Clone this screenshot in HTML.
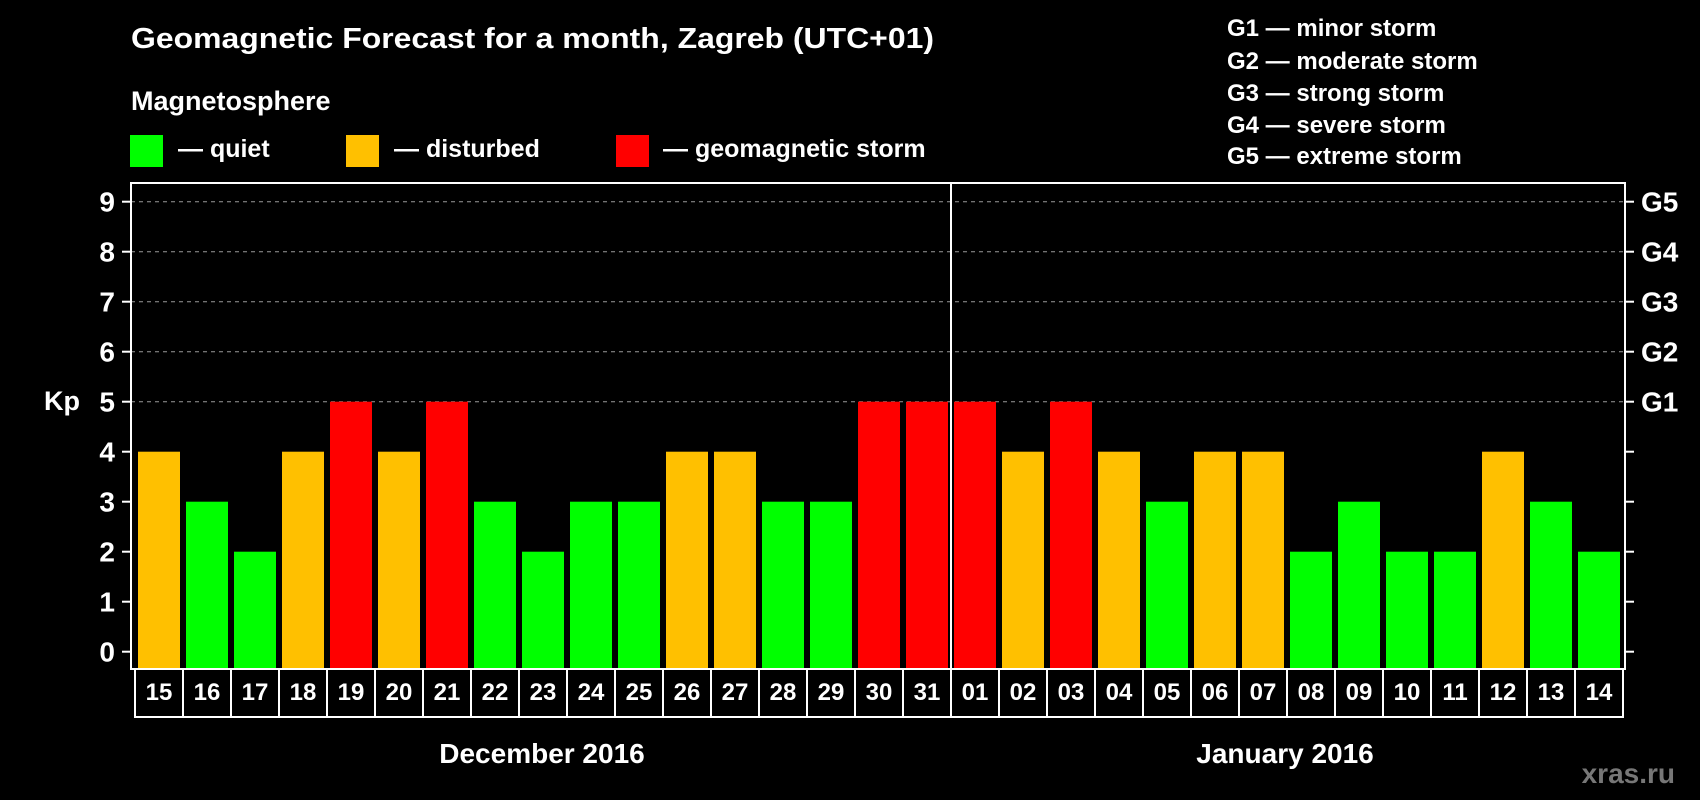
<!DOCTYPE html>
<html><head><meta charset="utf-8"><style>
html,body{margin:0;padding:0;background:#000;}
svg{display:block;font-family:"Liberation Sans",Arial,sans-serif;font-weight:bold;}
</style></head><body>
<svg id="chart" width="1700" height="800" viewBox="0 0 1700 800">
<rect x="0" y="0" width="1700" height="800" fill="#000"/>
<text x="131" y="48" fill="#fff" font-size="29" textLength="803" lengthAdjust="spacingAndGlyphs">Geomagnetic Forecast for a month, Zagreb (UTC+01)</text>
<text x="131" y="110" fill="#fff" font-size="27">Magnetosphere</text>
<g>
<rect x="130" y="135" width="33" height="32" fill="#00ff00"/>
<text x="178" y="157" fill="#fff" font-size="25">— quiet</text></g>
<g>
<rect x="346" y="135" width="33" height="32" fill="#ffc000"/>
<text x="394" y="157" fill="#fff" font-size="25">— disturbed</text></g>
<g>
<rect x="616" y="135" width="33" height="32" fill="#ff0000"/>
<text x="663" y="157" fill="#fff" font-size="25">— geomagnetic storm</text></g>
<g fill="#fff" font-size="24">
<text x="1227" y="36">G1 — minor storm</text>
<text x="1227" y="69">G2 — moderate storm</text>
<text x="1227" y="101">G3 — strong storm</text>
<text x="1227" y="133">G4 — severe storm</text>
<text x="1227" y="164">G5 — extreme storm</text>
</g>
<g id="grid"></g>
<g id="bars"></g>
<g id="axes"></g>
<text x="62" y="410" fill="#fff" font-size="27" text-anchor="middle">Kp</text>
<text x="542" y="763" fill="#fff" font-size="28" text-anchor="middle">December 2016</text>
<text x="1285" y="763" fill="#fff" font-size="28" text-anchor="middle">January 2016</text>
<text x="1675" y="783" fill="#777" font-size="28" text-anchor="end">xras.ru</text>
</svg>
<script>
const days = ["15","16","17","18","19","20","21","22","23","24","25","26","27","28","29","30","31","01","02","03","04","05","06","07","08","09","10","11","12","13","14"];
const kpValues = [4,3,2,4,5,4,5,3,2,3,3,4,4,3,3,5,5,5,4,5,4,3,4,4,2,3,2,2,4,3,2];
const yTicks = [0,1,2,3,4,5,6,7,8,9];
const gLabels = ["G1","G2","G3","G4","G5"];
const gLevels = [5,6,7,8,9];

const NS="http://www.w3.org/2000/svg";
const L=131,R=1625,T=183,B=669,boxL=135,slot=48,boxB=717;
function y(v){return 651.7-50*v;}
function x(i){return boxL+slot*i;}
function mk(tag,attrs,parent){const e=document.createElementNS(NS,tag);for(const k in attrs)e.setAttribute(k,attrs[k]);parent.appendChild(e);return e;}
const grid=document.getElementById('grid'),bars=document.getElementById('bars'),axes=document.getElementById('axes');
gLevels.forEach(v=>{
  const g=mk('line',{x1:L,x2:R,y1:y(v),y2:y(v),stroke:'#999','stroke-width':1,'stroke-dasharray':'4 4'},grid);
  
  
});
kpValues.forEach((v,i)=>{
  const c=v>=5?'#ff0000':(v>=4?'#ffc000':'#00ff00');
  const r=mk('rect',{x:x(i)+3,y:y(v),width:42,height:B-y(v),fill:c},bars);
  
  
});
const fr=mk('rect',{x:L,y:T,width:R-L,height:B-T,fill:'none',stroke:'#fff','stroke-width':2},axes);


const dv=mk('line',{x1:x(17),x2:x(17),y1:T,y2:B,stroke:'#fff','stroke-width':2},axes);


yTicks.forEach(v=>{
  const t=mk('line',{x1:122,x2:L,y1:y(v),y2:y(v),stroke:'#fff','stroke-width':2},axes);
  
  
  const t2=mk('line',{x1:R,x2:1634,y1:y(v),y2:y(v),stroke:'#fff','stroke-width':2},axes);
  
  
  const lb=mk('text',{x:115,y:y(v)+10,fill:'#fff','font-size':28,'text-anchor':'end'},axes);
  lb.textContent=v;
  
  
});
gLabels.forEach((g,i)=>{
  const lb=mk('text',{x:1641,y:y(gLevels[i])+10,fill:'#fff','font-size':28},axes);
  lb.textContent=g;
  
  
});
days.forEach((d,i)=>{
  const b=mk('rect',{x:x(i),y:B,width:slot,height:boxB-B,fill:'none',stroke:'#fff','stroke-width':2},axes);
  
  
  const t=mk('text',{x:x(i)+slot/2,y:700,fill:'#fff','font-size':24,'text-anchor':'middle'},axes);
  t.textContent=d;
  
  
});
</script>
</body></html>
